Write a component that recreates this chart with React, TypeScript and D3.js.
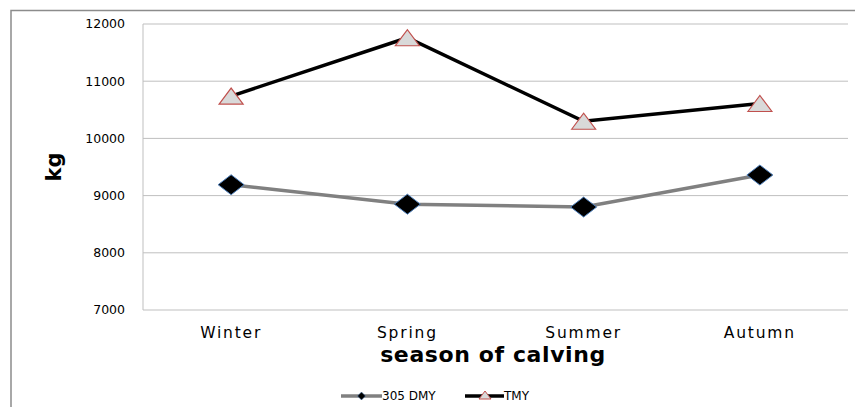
import React from "react";
import * as d3 from "d3";

const categories = ["Winter", "Spring", "Summer", "Autumn"];
const dmy = [9190, 8850, 8800, 9360];
const tmy = [10740, 11760, 10300, 10610];
const yTicks = [7000, 8000, 9000, 10000, 11000, 12000];
const seriesNames = ["305 DMY", "TMY"];

const W = 855, H = 407;
const plot = { left: 143, right: 848, top: 24, bottom: 310 };

export default function App() {
  const x = d3.scaleBand().domain(categories).range([plot.left, plot.right]);
  const y = d3.scaleLinear().domain([7000, 12000]).range([plot.bottom, plot.top]);
  const cx = (c: string) => (x(c) as number) + x.bandwidth() / 2;
  const line = d3.line<number>().x((_, i) => cx(categories[i])).y((v) => y(v));
  const font = "'DejaVu Sans', Verdana, sans-serif";
  const diamond = (px: number, py: number, w = 13, h = 10) =>
    `M${px - w},${py} L${px},${py - h} L${px + w},${py} L${px},${py + h} Z`;
  const tri = (px: number, py: number, w = 12, h = 16) =>
    `M${px - w},${py + h / 2} L${px},${py - h / 2} L${px + w},${py + h / 2} Z`;
  const ly = 396;
  return (
    <svg width={W} height={H} style={{ position: "absolute", left: 0, top: 0 }}>
      <rect x={0} y={0} width={W} height={H} fill="#fff" />
      <rect x={11} y={10.5} width={W + 10} height={H + 10} fill="none" stroke="#8c8c8c" strokeWidth={1.5} />
      {yTicks.map((t) => (
        <g key={t}>
          <line x1={plot.left} x2={plot.right} y1={y(t)} y2={y(t)} stroke="#bfbfbf" strokeWidth={1} />
          <text x={125} y={y(t)} dy="0.35em" textAnchor="end" fontFamily={font} fontSize={12.5} fill="#000">
            {t}
          </text>
        </g>
      ))}
      <line x1={plot.left} x2={plot.left} y1={plot.top} y2={plot.bottom} stroke="#bfbfbf" strokeWidth={1} />
      {categories.map((c) => (
        <text key={c} x={cx(c)} y={338} textAnchor="middle" fontFamily={font} fontSize={15.5} letterSpacing={1.8} fill="#000">
          {c}
        </text>
      ))}
      <text x={493} y={362} textAnchor="middle" fontFamily={font} fontWeight="bold" fontSize={22} letterSpacing={0.6} fill="#000">
        season of calving
      </text>
      <text transform="translate(61,167) rotate(-90)" textAnchor="middle" fontFamily={font} fontWeight="bold" fontSize={21} fill="#000">
        kg
      </text>
      <path d={line(dmy) as string} fill="none" stroke="#808080" strokeWidth={3.5} />
      <path d={line(tmy) as string} fill="none" stroke="#000" strokeWidth={3.5} />
      {dmy.map((v, i) => (
        <path key={"d" + i} d={diamond(cx(categories[i]), y(v))} fill="#000" stroke="#4f81bd" strokeWidth={1} />
      ))}
      {tmy.map((v, i) => (
        <path key={"t" + i} d={tri(cx(categories[i]), y(v))} fill="#d9d9d9" stroke="#c0504d" strokeWidth={1.2} />
      ))}
      <g>
        <line x1={341} x2={382} y1={ly} y2={ly} stroke="#808080" strokeWidth={3.5} />
        <path d={diamond(361.5, ly, 4, 4)} fill="#000" stroke="#4f81bd" strokeWidth={0.5} />
        <text x={382} y={ly} dy="0.35em" fontFamily={font} fontSize={12} fill="#000">
          {seriesNames[0]}
        </text>
        <line x1={465} x2={504} y1={ly} y2={ly} stroke="#000" strokeWidth={3.5} />
        <path d={tri(485, ly - 1, 6, 8)} fill="#d9d9d9" stroke="#c0504d" strokeWidth={1} />
        <text x={504} y={ly} dy="0.35em" fontFamily={font} fontSize={12} fill="#000">
          {seriesNames[1]}
        </text>
      </g>
    </svg>
  );
}
